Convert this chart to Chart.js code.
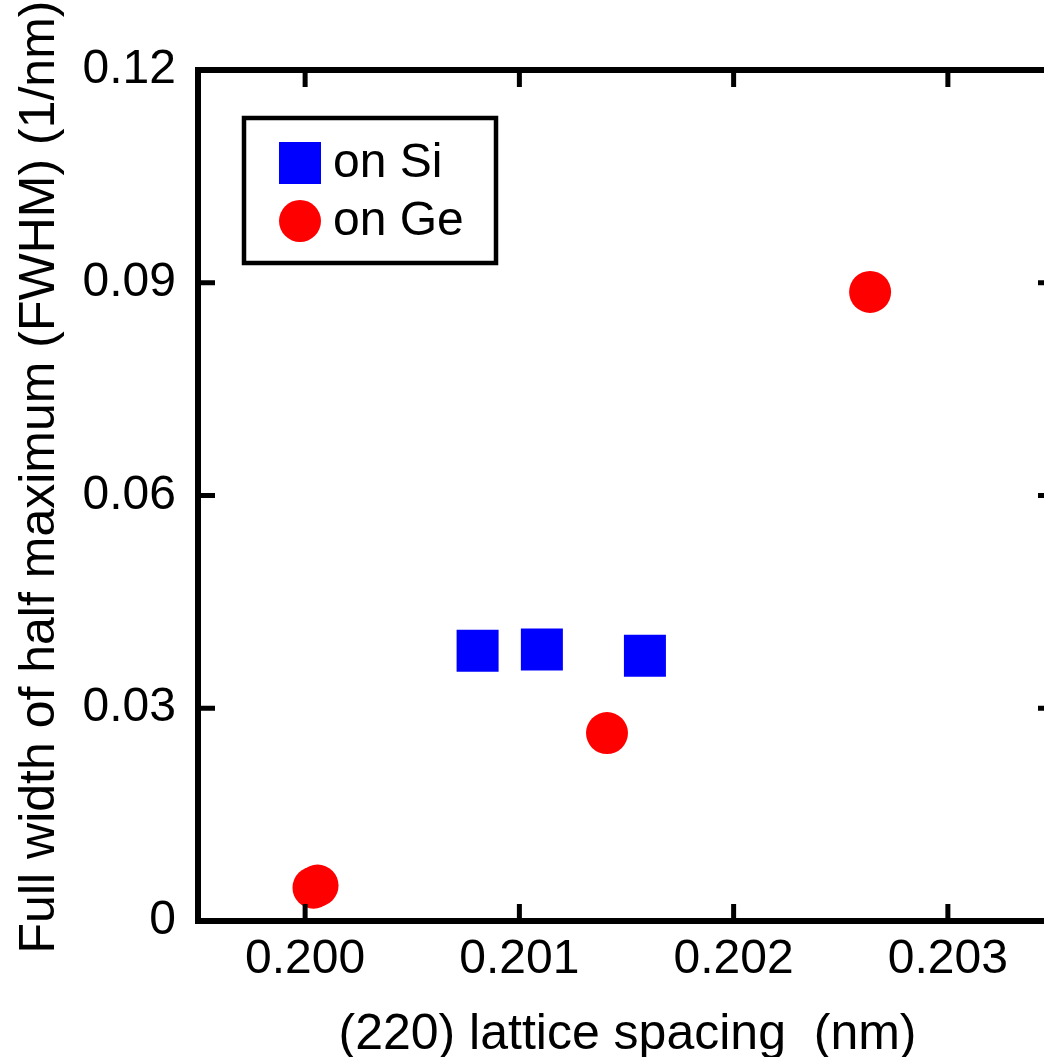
<!DOCTYPE html>
<html>
<head>
<meta charset="utf-8">
<script src="https://cdn.jsdelivr.net/npm/chart.js@4/dist/chart.umd.min.js"></script>
<style>
  html, body { margin: 0; padding: 0; background: #fff; overflow: hidden; }
  #wrap { width: 1044px; height: 1057px; overflow: hidden; }
  canvas { display: block; }
</style>
</head>
<body>
<div id="wrap">
  <canvas id="fwhm-chart" width="1056" height="1057"></canvas>
</div>
<script>
// Tick values for both axes
const xTicks = [0.200, 0.201, 0.202, 0.203];
const yTicks = [0, 0.03, 0.06, 0.09, 0.12];

// (220) spacing vs FWHM for the two substrates
const siSpacing = [0.200805, 0.201105, 0.201586];
const siFwhm = [0.0381, 0.0383, 0.0374];
const geSpacing = [0.200039, 0.200058, 0.201409, 0.202637];
const geFwhm = [0.0047, 0.0050, 0.0265, 0.0887];

const seriesLabels = ["on Si", "on Ge"];
const xTitle = "(220) lattice spacing  (nm)";
const yTitle = "Full width of half maximum (FWHM) (1/nm)";

const FONT = '"Liberation Sans", Arial, Helvetica, sans-serif';

function toPoints(xs, ys) {
  return xs.map((x, i) => ({ x, y: ys[i] }));
}

// Thick box around the plot area with inward ticks on every side
const framePlugin = {
  id: "frame",
  afterDatasetsDraw(chart) {
    const { ctx, chartArea: a, scales } = chart;
    const len = 17;
    ctx.save();
    ctx.strokeStyle = "#000";
    ctx.lineWidth = 5;
    ctx.lineCap = "butt";
    ctx.beginPath();
    for (const v of xTicks) {
      const px = scales.x.getPixelForValue(v);
      ctx.moveTo(px, a.bottom);
      ctx.lineTo(px, a.bottom - len);
      ctx.moveTo(px, a.top);
      ctx.lineTo(px, a.top + len);
    }
    for (const v of yTicks) {
      const py = scales.y.getPixelForValue(v);
      ctx.moveTo(a.left, py);
      ctx.lineTo(a.left + len, py);
      ctx.moveTo(a.right, py);
      ctx.lineTo(a.right - len, py);
    }
    ctx.stroke();
    ctx.lineWidth = 6;
    ctx.strokeRect(a.left, a.top, a.right - a.left, a.bottom - a.top);
    ctx.restore();
  },
};

// Boxed legend in the upper-left corner of the plot
const boxLegendPlugin = {
  id: "boxLegend",
  afterDraw(chart) {
    const { ctx, chartArea: a } = chart;
    const bx = a.left + 46;
    const by = a.top + 48;
    ctx.save();
    ctx.strokeStyle = "#000";
    ctx.lineWidth = 4.5;
    ctx.strokeRect(bx, by, 252, 145);
    ctx.font = "48px " + FONT;
    ctx.textBaseline = "middle";
    ctx.textAlign = "left";
    chart.data.datasets.forEach((ds, i) => {
      const cy = by + 45 + i * 58;
      ctx.fillStyle = ds.backgroundColor;
      Chart.helpers.drawPoint(
        ctx,
        { pointStyle: ds.pointStyle, radius: ds.pointRadius, rotation: 0, borderWidth: 0 },
        bx + 56,
        cy
      );
      ctx.fillStyle = "#000";
      ctx.fillText(ds.label, bx + 89, cy + 1);
    });
    ctx.restore();
  },
};

// Axis titles
const axisTitlePlugin = {
  id: "axisTitles",
  afterDraw(chart) {
    const { ctx, chartArea: a } = chart;
    ctx.save();
    ctx.fillStyle = "#000";
    ctx.font = "50px " + FONT;
    ctx.textAlign = "center";
    ctx.textBaseline = "middle";
    ctx.fillText(xTitle, (a.left + a.right) / 2 + 1, 1035);
    ctx.translate(40, 477);
    ctx.rotate(-Math.PI / 2);
    ctx.fillText(yTitle, 0, 0);
    ctx.restore();
  },
};

new Chart(document.getElementById("fwhm-chart"), {
  type: "scatter",
  data: {
    datasets: [
      {
        label: seriesLabels[0],
        data: toPoints(siSpacing, siFwhm),
        pointStyle: "rect",
        pointRadius: 29.7,
        pointHoverRadius: 29.7,
        backgroundColor: "#0000ff",
        borderWidth: 0,
      },
      {
        label: seriesLabels[1],
        data: toPoints(geSpacing, geFwhm),
        pointStyle: "circle",
        pointRadius: 21,
        pointHoverRadius: 21,
        backgroundColor: "#ff0000",
        borderWidth: 0,
      },
    ],
  },
  options: {
    responsive: false,
    animation: false,
    layout: { autoPadding: false, padding: { top: 70, right: 1, left: 0, bottom: 0 } },
    plugins: {
      legend: { display: false },
      tooltip: { enabled: false },
    },
    scales: {
      x: {
        type: "linear",
        min: 0.1995,
        max: 0.2035,
        afterBuildTicks: (s) => {
          s.ticks = xTicks.map((v) => ({ value: v }));
        },
        afterFit: (s) => {
          s.height = 136;
          s.paddingLeft = 0;
          s.paddingRight = 0;
        },
        grid: { display: false, drawTicks: false },
        border: { display: false },
        ticks: {
          color: "#000",
          font: { family: FONT, size: 48 },
          padding: 10,
          maxRotation: 0,
          autoSkip: false,
          callback: (v) => Number(v).toFixed(3),
        },
      },
      y: {
        type: "linear",
        min: 0,
        max: 0.12,
        afterBuildTicks: (s) => {
          s.ticks = yTicks.map((v) => ({ value: v }));
        },
        afterFit: (s) => {
          s.width = 198;
          s.paddingTop = 0;
          s.paddingBottom = 0;
        },
        grid: { display: false, drawTicks: false },
        border: { display: false },
        ticks: {
          color: "#000",
          font: { family: FONT, size: 48 },
          padding: 22,
          callback: (v) => (v === 0 ? "0" : Number(v).toFixed(2)),
        },
      },
    },
  },
  plugins: [framePlugin, boxLegendPlugin, axisTitlePlugin],
});
</script>
</body>
</html>
